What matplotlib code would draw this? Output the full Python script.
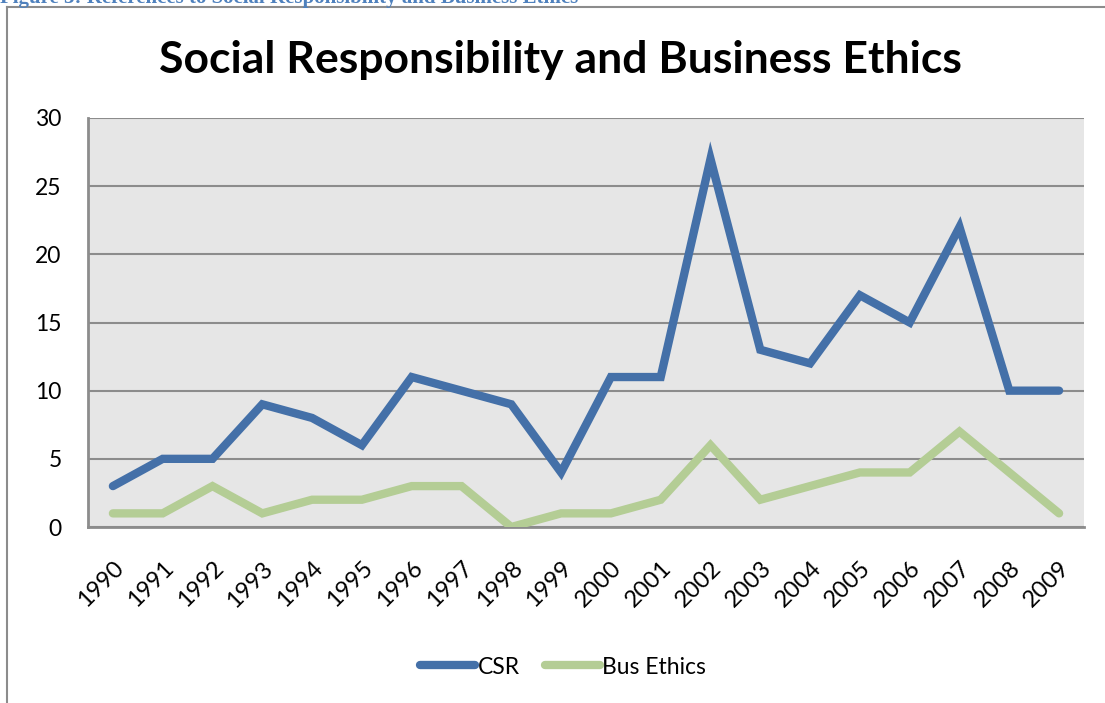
import matplotlib
matplotlib.use("Agg")
import matplotlib.pyplot as plt
from matplotlib.lines import Line2D

years = ["1990", "1991", "1992", "1993", "1994", "1995", "1996", "1997", "1998", "1999",
         "2000", "2001", "2002", "2003", "2004", "2005", "2006", "2007", "2008", "2009"]
csr = [3, 5, 5, 9, 8, 6, 11, 10, 9, 4, 11, 11, 27, 13, 12, 17, 15, 22, 10, 10]
bus_ethics = [1, 1, 3, 1, 2, 2, 3, 3, 0, 1, 1, 2, 6, 2, 3, 4, 4, 7, 4, 1]
yticks = [0, 5, 10, 15, 20, 25, 30]

plt.rcParams['font.family'] = ['Lato', 'DejaVu Sans']

W, H = 1105, 703
fig = plt.figure(figsize=(W / 100, H / 100), dpi=100)

# outer frame (only left and top edges are visible in the crop)
fig.add_artist(Line2D([7 / W, 7 / W], [0, 1 - 7 / H], transform=fig.transFigure,
                      color='#8c8c8c', lw=1.5))
fig.add_artist(Line2D([7 / W, 1], [1 - 7 / H, 1 - 7 / H], transform=fig.transFigure,
                      color='#8c8c8c', lw=1.5))

# caption, cut off at the top edge as in the reference
fig.text(0.0, 1 - 3 / H, "Figure 3: References to Social Responsibility and Business Ethics",
         family='Liberation Serif', fontweight='bold', fontsize=15, color='#4F81BD',
         ha='left', va='baseline')

ax = fig.add_axes([88 / W, 1 - 527 / H, 996 / W, 409 / H])
ax.set_facecolor('#E6E6E6')
x = list(range(len(years)))
ax.plot(x, csr, color='#4470A8', lw=6, solid_capstyle='round', solid_joinstyle='miter', label='CSR', zorder=3)
ax.plot(x, bus_ethics, color='#B4CD95', lw=6, solid_capstyle='round', solid_joinstyle='miter', label='Bus Ethics', zorder=3)

ax.set_xlim(-0.5, len(years) - 0.5)
ax.set_ylim(0, 30)
ax.set_yticks(yticks)
ax.set_yticklabels([str(v) for v in yticks], fontsize=16.5)
ax.set_xticks(x)
ax.set_xticklabels(years, fontsize=17, rotation=45, ha='right', rotation_mode='anchor')
ax.tick_params(axis='y', length=0, pad=19)
ax.tick_params(axis='x', length=0, pad=22)
ax.yaxis.grid(True, color='#8c8c8c', lw=1.5)
ax.set_axisbelow(True)
for s in ['top', 'right']:
    ax.spines[s].set_visible(False)
for s in ['left', 'bottom']:
    ax.spines[s].set_color('#8c8c8c')
    ax.spines[s].set_linewidth(2)

fig.text(560 / W, 1 - 60 / H, "Social Responsibility and Business Ethics", fontsize=32,
         fontweight='bold', ha='center', va='center')

fig.legend(loc='center', bbox_to_anchor=(563 / W, 1 - 667 / H), ncol=2, frameon=False,
           fontsize=16.5, handlelength=2.4, handletextpad=0.1, columnspacing=1.1)

fig.savefig("out.png", dpi=100)
